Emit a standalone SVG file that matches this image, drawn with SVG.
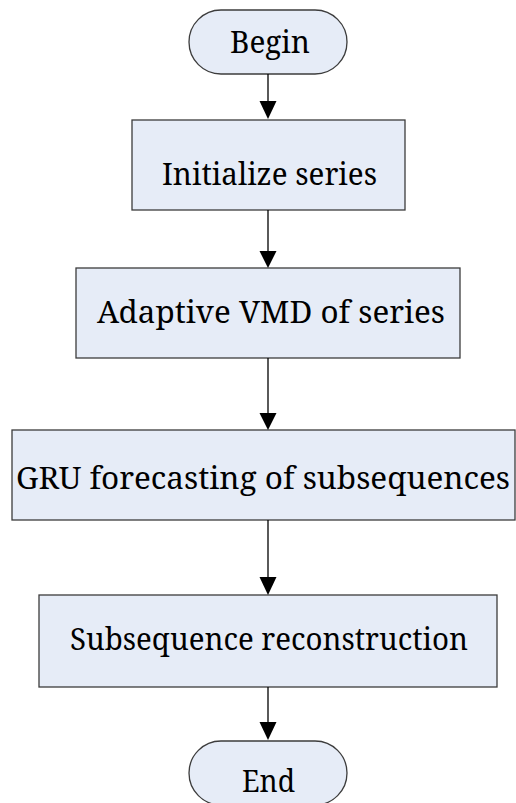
<svg xmlns="http://www.w3.org/2000/svg" width="516" height="803" viewBox="0 0 516 803">
<style>
.n{fill:#E6ECF7;stroke:#3c3c3c;stroke-width:1.3}
.t{font-family:"Noto Serif","DejaVu Serif",serif;font-size:31px;fill:#000;text-anchor:start}
.c{stroke:#000;stroke-width:1.3;fill:none}
.h{fill:#000;stroke:none}
</style>
<rect width="516" height="803" fill="#fff"/>
<g id="begin"><rect class="n" x="189" y="10" width="158" height="64" rx="32" ry="32"/><text class="t" x="230" y="53" textLength="80" lengthAdjust="spacingAndGlyphs">Begin</text></g>
<g id="init"><rect class="n" x="132" y="120" width="273" height="90"/><text class="t" x="162" y="185" textLength="215" lengthAdjust="spacingAndGlyphs">Initialize series</text></g>
<g id="vmd"><rect class="n" x="76" y="268" width="384" height="90"/><text class="t" x="97" y="323" textLength="348" lengthAdjust="spacingAndGlyphs">Adaptive VMD of series</text></g>
<g id="gru"><rect class="n" x="12" y="430" width="503" height="90"/><text class="t" x="16" y="489" textLength="494" lengthAdjust="spacingAndGlyphs">GRU forecasting of subsequences</text></g>
<g id="recon"><rect class="n" x="39" y="595" width="458" height="92"/><text class="t" x="70" y="650" textLength="398" lengthAdjust="spacingAndGlyphs">Subsequence reconstruction</text></g>
<g id="end"><rect class="n" x="189" y="741" width="158" height="64" rx="32" ry="32"/><text class="t" x="242" y="792" textLength="53" lengthAdjust="spacingAndGlyphs">End</text></g>
<g id="connectors">
<line class="c" x1="268" y1="74" x2="268" y2="102"/><polygon class="h" points="259.5,101 276.5,101 268,119"/>
<line class="c" x1="268" y1="210" x2="268" y2="252"/><polygon class="h" points="259.5,251 276.5,251 268,268"/>
<line class="c" x1="268" y1="358" x2="268" y2="414"/><polygon class="h" points="259.5,413 276.5,413 268,430"/>
<line class="c" x1="268" y1="520" x2="268" y2="578"/><polygon class="h" points="259.5,577 276.5,577 268,595"/>
<line class="c" x1="268" y1="687" x2="268" y2="723"/><polygon class="h" points="259.5,722 276.5,722 268,740"/>
</g>
</svg>
